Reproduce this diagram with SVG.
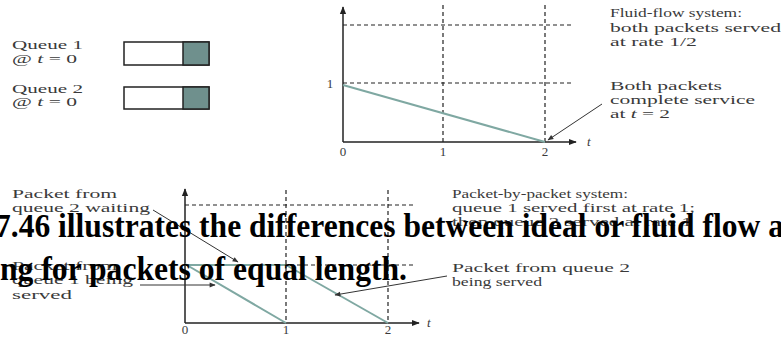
<svg xmlns="http://www.w3.org/2000/svg" width="781" height="337" viewBox="0 0 781 337">
<style>
.lbl{font-family:"Liberation Serif",serif;font-size:13px;fill:#3a3a3a}
.ax{stroke:#222;stroke-width:1.5;fill:none}
.dash{stroke:#222;stroke-width:1.2;stroke-dasharray:4,3;fill:none}
.g{stroke:#7fa8a2;stroke-width:2;fill:none}
.ptr{stroke:#333;stroke-width:1;fill:none}
.big{font-family:"Liberation Serif",serif;font-size:33px;font-weight:bold;fill:#000}
</style>
<defs>
<marker id="ah" viewBox="0 0 10 10" refX="9" refY="5" markerWidth="8" markerHeight="8" orient="auto" markerUnits="userSpaceOnUse"><path d="M0,1 L10,5 L0,9 Z" fill="#222"/></marker>
<marker id="ahs" viewBox="0 0 10 10" refX="9" refY="5" markerWidth="7" markerHeight="6" orient="auto" markerUnits="userSpaceOnUse"><path d="M0,1 L10,5 L0,9 Z" fill="#333"/></marker>
</defs>

<g id="queue1">
<text class="lbl" x="12" y="49" textLength="71" lengthAdjust="spacingAndGlyphs">Queue 1</text>
<text class="lbl" x="12" y="63" textLength="65" lengthAdjust="spacingAndGlyphs">@ <tspan font-style="italic">t</tspan> = 0</text>
<rect x="124" y="42" width="85" height="23" fill="#fff" stroke="#222" stroke-width="1.5"/>
<rect x="183" y="42" width="26" height="23" fill="#6f908d" stroke="#222" stroke-width="1.5"/>
</g>
<g id="queue2">
<text class="lbl" x="12" y="93" textLength="71" lengthAdjust="spacingAndGlyphs">Queue 2</text>
<text class="lbl" x="12" y="106" textLength="65" lengthAdjust="spacingAndGlyphs">@ <tspan font-style="italic">t</tspan> = 0</text>
<rect x="124" y="87" width="85" height="22" fill="#fff" stroke="#222" stroke-width="1.5"/>
<rect x="183" y="87" width="26" height="22" fill="#6f908d" stroke="#222" stroke-width="1.5"/>
</g>

<g id="fluid-chart">
<line class="dash" x1="343" y1="25" x2="572" y2="25"/>
<line class="dash" x1="343" y1="83" x2="572" y2="83"/>
<line class="dash" x1="443" y1="5" x2="443" y2="142"/>
<line class="dash" x1="545" y1="5" x2="545" y2="142"/>
<line class="ax" x1="343" y1="142" x2="343" y2="7" marker-end="url(#ah)"/>
<line class="ax" x1="343" y1="142" x2="576" y2="142" marker-end="url(#ah)"/>
<line class="g" x1="343" y1="85" x2="545" y2="142"/>
<text class="lbl" x="330" y="88" text-anchor="middle">1</text>
<text class="lbl" x="343" y="156" text-anchor="middle">0</text>
<text class="lbl" x="443" y="156" text-anchor="middle">1</text>
<text class="lbl" x="545" y="156" text-anchor="middle">2</text>
<text class="lbl" x="587" y="146" font-style="italic">t</text>
</g>

<g id="fluid-labels">
<text class="lbl" x="610" y="17" textLength="132" lengthAdjust="spacingAndGlyphs">Fluid-flow system:</text>
<text class="lbl" x="610" y="32" textLength="171" lengthAdjust="spacingAndGlyphs">both packets served</text>
<text class="lbl" x="610" y="46" textLength="87" lengthAdjust="spacingAndGlyphs">at rate 1/2</text>
<text class="lbl" x="610" y="90" textLength="112" lengthAdjust="spacingAndGlyphs">Both packets</text>
<text class="lbl" x="610" y="104" textLength="145" lengthAdjust="spacingAndGlyphs">complete service</text>
<text class="lbl" x="610" y="118" textLength="60" lengthAdjust="spacingAndGlyphs">at <tspan font-style="italic">t</tspan> = 2</text>
</g>

<g id="packet-chart">
<line class="dash" x1="185" y1="205" x2="415" y2="205"/>
<line class="dash" x1="185" y1="265" x2="415" y2="265"/>
<line class="dash" x1="286" y1="190" x2="286" y2="323"/>
<line class="dash" x1="388" y1="190" x2="388" y2="323"/>
<line class="ax" x1="185" y1="323" x2="185" y2="189" marker-end="url(#ah)"/>
<line class="ax" x1="185" y1="323" x2="419" y2="323" marker-end="url(#ah)"/>
<line class="g" x1="185" y1="265" x2="286" y2="265"/>
<line class="g" x1="185" y1="264" x2="286" y2="323"/>
<line class="g" x1="286" y1="265" x2="388" y2="323"/>
<text class="lbl" x="185" y="334" text-anchor="middle">0</text>
<text class="lbl" x="286" y="334" text-anchor="middle">1</text>
<text class="lbl" x="388" y="334" text-anchor="middle">2</text>
<text class="lbl" x="427" y="327" font-style="italic">t</text>
</g>

<g id="packet-labels">
<text class="lbl" x="12" y="198" textLength="105" lengthAdjust="spacingAndGlyphs">Packet from</text>
<text class="lbl" x="12" y="212" textLength="138" lengthAdjust="spacingAndGlyphs">queue 2 waiting</text>
<text class="lbl" x="12" y="270" textLength="105" lengthAdjust="spacingAndGlyphs">Packet from</text>
<text class="lbl" x="12" y="284" textLength="121" lengthAdjust="spacingAndGlyphs">queue 1 being</text>
<text class="lbl" x="12" y="299" textLength="60" lengthAdjust="spacingAndGlyphs">served</text>
<text class="lbl" x="452" y="198" textLength="176" lengthAdjust="spacingAndGlyphs">Packet-by-packet system:</text>
<text class="lbl" x="452" y="212" textLength="243" lengthAdjust="spacingAndGlyphs">queue 1 served first at rate 1;</text>
<text class="lbl" x="452" y="226" textLength="240" lengthAdjust="spacingAndGlyphs">then queue 2 served at rate 1</text>
<text class="lbl" x="452" y="272" textLength="178" lengthAdjust="spacingAndGlyphs">Packet from queue 2</text>
<text class="lbl" x="452" y="286" textLength="90" lengthAdjust="spacingAndGlyphs">being served</text>
</g>

<g id="connectors">
<line class="ptr" x1="602" y1="104" x2="548" y2="140" marker-end="url(#ahs)"/>
<line class="ptr" x1="153" y1="210" x2="238" y2="262" marker-end="url(#ahs)"/>
<line class="ptr" x1="140" y1="285" x2="215" y2="285" marker-end="url(#ahs)"/>
<line class="ptr" x1="447" y1="276" x2="335" y2="295" marker-end="url(#ahs)"/>
</g>

<g id="caption">
<text class="big" x="-5" y="237" textLength="789" lengthAdjust="spacingAndGlyphs">7.46 illustrates the differences between ideal or fluid flow a</text>
<text class="big" x="0" y="280" textLength="407" lengthAdjust="spacingAndGlyphs">ng for packets of equal length.</text>
</g>
</svg>
